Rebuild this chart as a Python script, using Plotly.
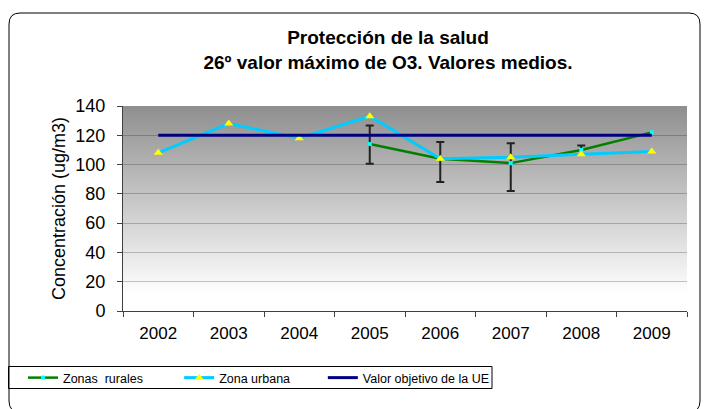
import base64, struct, zlib
import plotly.graph_objects as go

# ---------------- data ----------------
years = ["2002", "2003", "2004", "2005", "2006", "2007", "2008", "2009"]
rural = [None, None, None, 114, 104, 101, 110, 122]
urbana = [108, 128, 118, 133, 104, 105, 107, 109]
objetivo_ue = [120, 120, 120, 120, 120, 120, 120, 120]
rural_err_y = [None, None, None, 114, 104, 101, 110, None]
rural_err_plus = [0, 0, 0, 12.6, 11.4, 13.5, 3, 0]
rural_err_minus = [0, 0, 0, 13.4, 15.9, 19, 3, 0]
y_ticks = [0, 20, 40, 60, 80, 100, 120, 140]
series_names = ["Zonas\u00a0 rurales", "Zona urbana", "Valor objetivo de la UE"]

title_lines = ["Protección de la salud", "26º valor máximo de O3. Valores medios."]
y_title = "Concentración (ug/m3)"

FONT = "Liberation Sans, Arial, sans-serif"
OFF = 8  # page body margin of the html page
W, H = 713 - OFF, 409 - OFF
L, R, T, B = 123 - OFF, 687 - OFF, 106 - OFF, 311 - OFF  # plot area in figure px


def px(x):
    """page x (px) -> paper x"""
    return (x - OFF - L) / (R - L)


def py(y):
    """page y (px) -> paper y"""
    return (B - (y - OFF)) / (B - T)


# ---------------- gradient background image ----------------
def png_gray(vals, width=2):
    raw = b"".join(b"\x00" + bytes([v]) * width for v in vals)

    def chunk(t, d):
        return struct.pack(">I", len(d)) + t + d + struct.pack(">I", zlib.crc32(t + d) & 0xFFFFFFFF)

    ihdr = struct.pack(">IIBBBBB", width, len(vals), 8, 0, 0, 0, 0)
    return b"\x89PNG\r\n\x1a\n" + chunk(b"IHDR", ihdr) + chunk(b"IDAT", zlib.compress(raw)) + chunk(b"IEND", b"")


n = 205
grad = []
for i in range(n):
    t = i / (n - 1)
    f = min(1.0, t / 0.92)
    grad.append(int(round(143 + (255 - 143) * f)))
img_src = "data:image/png;base64," + base64.b64encode(png_gray(grad)).decode()

fig = go.Figure()

# error bars (drawn beneath the lines)
fig.add_trace(go.Scatter(
    x=years, y=rural_err_y, mode="markers",
    marker=dict(size=1, color="rgba(0,0,0,0)"),
    error_y=dict(type="data", symmetric=False, array=rural_err_plus,
                 arrayminus=rural_err_minus, color="#222222", thickness=2, width=4),
    showlegend=False, hoverinfo="skip",
))

fig.add_trace(go.Scatter(
    x=years, y=rural, name=series_names[0] + "\u00a0" * 9, mode="lines+markers",
    line=dict(color="#008000", width=2.5),
    marker=dict(symbol="square", size=4, color="#00ffff"),
    connectgaps=False,
))
fig.add_trace(go.Scatter(
    x=years, y=urbana, name=series_names[1] + "\u00a0" * 8, mode="lines+markers",
    line=dict(color="#00ccff", width=3),
    marker=dict(symbol="triangle-up", size=8, color="#ffff00"),
))
fig.add_trace(go.Scatter(
    x=years, y=objetivo_ue, name=series_names[2], mode="lines",
    line=dict(color="#000080", width=3),
))

# outer rounded border (page px)
x0, x1, y0, y1, r = 9, 700, 13, 412, 11
path = (
    f"M {px(x0)},{py(y0 + r)} "
    f"Q {px(x0)},{py(y0)} {px(x0 + r)},{py(y0)} "
    f"L {px(x1 - r)},{py(y0)} "
    f"Q {px(x1)},{py(y0)} {px(x1)},{py(y0 + r)} "
    f"L {px(x1)},{py(y1 - r)} "
    f"Q {px(x1)},{py(y1)} {px(x1 - r)},{py(y1)} "
    f"L {px(x0 + r)},{py(y1)} "
    f"Q {px(x0)},{py(y1)} {px(x0)},{py(y1 - r)} Z"
)

fig.update_layout(
    width=W, height=H,
    margin=dict(l=L, r=W - R, t=T, b=H - B, autoexpand=False),
    paper_bgcolor="white",
    plot_bgcolor="rgba(0,0,0,0)",
    font=dict(family=FONT, color="black"),
    title=dict(
        text="<b>" + "<br>".join(title_lines) + "</b>",
        font=dict(size=19, family=FONT, color="black"),
        x=px(388), xref="paper", xanchor="center",
        y=1 - (44 - OFF) / H, yref="container", yanchor="top",
    ),
    images=[dict(source=img_src, xref="paper", yref="paper", x=0, y=1,
                 sizex=1, sizey=1, sizing="stretch", xanchor="left",
                 yanchor="top", layer="below")],
    shapes=[
        dict(type="path", path=path, xref="paper", yref="paper",
             line=dict(color="black", width=1), fillcolor="rgba(0,0,0,0)",
             layer="above"),
        dict(type="rect", xref="paper", yref="paper",
             x0=px(8.5), x1=px(492), y0=py(366.5), y1=py(388.5),
             line=dict(color="black", width=1), fillcolor="white", layer="below"),
    ],
    xaxis=dict(
        type="category", range=[-0.5, 7.5], showgrid=False,
        showline=True, linecolor="#404040", linewidth=1,
        ticks="outside", tickson="boundaries", ticklen=5, tickcolor="#404040",
        tickfont=dict(size=17, family=FONT, color="black"),
        ticklabelstandoff=7,
        fixedrange=True,
    ),
    yaxis=dict(
        range=[0, 140], tickvals=y_ticks, showgrid=True,
        gridcolor="rgba(0,0,0,0.22)", gridwidth=1, zeroline=False,
        showline=True, linecolor="#404040", linewidth=1,
        ticks="outside", ticklen=5, tickcolor="#404040",
        tickfont=dict(size=18, family=FONT, color="black"),
        ticklabelstandoff=8,
        title=dict(text=y_title, font=dict(size=18, family=FONT, color="black"),
                   standoff=5),
    ),
    legend=dict(
        orientation="h", x=px(23), y=py(363), xanchor="left", yanchor="top",
        borderwidth=0, bgcolor="rgba(0,0,0,0)",
        font=dict(size=12.5, family=FONT, color="black"),
        itemwidth=30, traceorder="normal",
    ),
    showlegend=True,
)

fig.write_html("out.html")
